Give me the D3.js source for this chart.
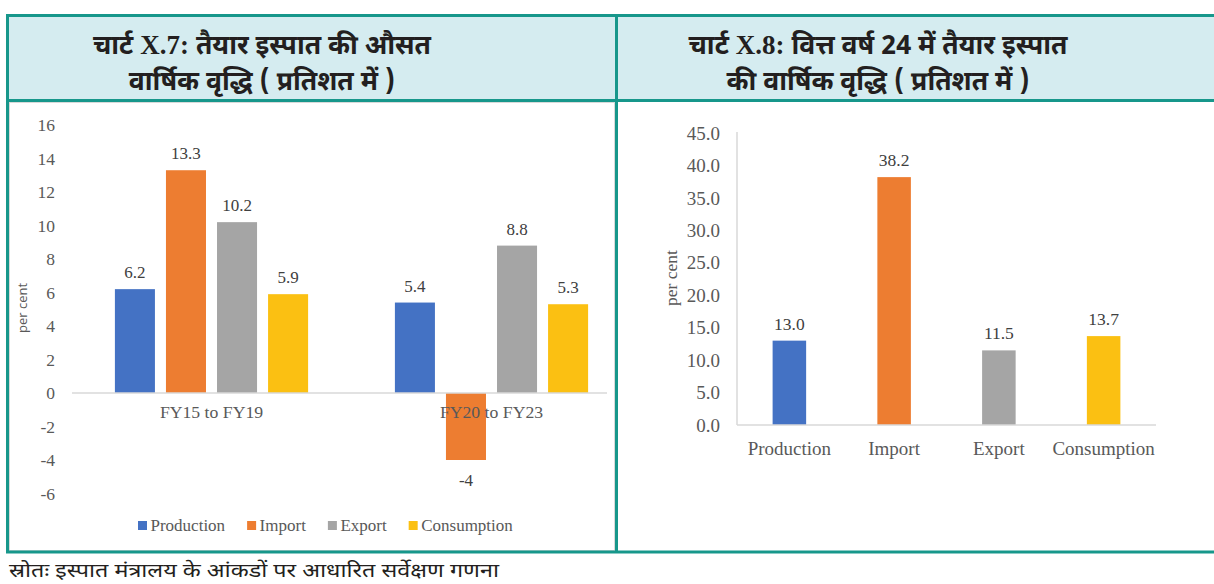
<!DOCTYPE html>
<html>
<head>
<meta charset="utf-8">
<script src="https://cdn.jsdelivr.net/npm/d3@7"></script>
<style>
  body { margin: 0; background: #fff; }
  svg { display: block; }
</style>
</head>
<body>
<svg id="chart" width="1214" height="584"></svg>
<script>
// ---- data ----
const periods = ["FY15 to FY19", "FY20 to FY23"];
const seriesNames = ["Production", "Import", "Export", "Consumption"];
const production = [6.2, 5.4];
const importGrowth = [13.3, -4];
const exportGrowth = [10.2, 8.8];
const consumption = [5.9, 5.3];
const leftTicks = [16, 14, 12, 10, 8, 6, 4, 2, 0, -2, -4, -6];

const fy24Categories = ["Production", "Import", "Export", "Consumption"];
const fy24Values = [13.0, 38.2, 11.5, 13.7];
const rightTicks = [0, 5, 10, 15, 20, 25, 30, 35, 40, 45];

const seriesColors = ["#4472c4", "#ed7d31", "#a5a5a5", "#fbc012"];

// title pieces: [text, isLatin]
const leftTitle = [
  [["चार्ट ", false], ["X.7:", true], [" तैयार इस्पात की औसत", false]],
  [["वार्षिक वृद्धि ( प्रतिशत में )", false]]
];
const rightTitle = [
  [["चार्ट ", false], ["X.8:", true], [" वित्त वर्ष 24 में तैयार इस्पात", false]],
  [["की वार्षिक वृद्धि ( प्रतिशत में )", false]]
];
const sourceNote = "स्रोतः इस्पात मंत्रालय के आंकडों पर आधारित सर्वेक्षण गणना";

// ---- styles ----
const teal = "#17978b";
const headerFill = "#d5ecf0";
const textGray = "#595959";
const axisGray = "#d9d9d9";
const serif = "'Liberation Serif', 'Times New Roman', serif";
const deva = "'Noto Sans Devanagari', 'Noto Serif Devanagari', 'Lohit Devanagari', 'FreeSans', 'Noto Sans', sans-serif";

const svg = d3.select("#chart");

// ---- frame & header ----
svg.append("rect").attr("x", 7).attr("y", 15).attr("width", 1214).attr("height", 86)
  .attr("fill", headerFill);
// inner light chart frame of the left panel
svg.append("rect").attr("x", 9.5).attr("y", 102.5).attr("width", 605).attr("height", 448)
  .attr("fill", "none").attr("stroke", axisGray).attr("stroke-width", 1);

const frame = svg.append("g").attr("stroke", teal);
frame.append("line").attr("x1", 6).attr("x2", 1214).attr("y1", 15.5).attr("y2", 15.5).attr("stroke-width", 3);
frame.append("line").attr("x1", 7.5).attr("x2", 7.5).attr("y1", 14).attr("y2", 553).attr("stroke-width", 3);
frame.append("line").attr("x1", 6).attr("x2", 1214).attr("y1", 100.5).attr("y2", 100.5).attr("stroke-width", 3);
frame.append("line").attr("x1", 616.5).attr("x2", 616.5).attr("y1", 14).attr("y2", 553).attr("stroke-width", 3);
frame.append("line").attr("x1", 6).attr("x2", 1214).attr("y1", 552).attr("y2", 552).attr("stroke-width", 3);

function drawTitle(lines, cx) {
  const t = svg.append("g").selectAll("text").data(lines).join("text")
    .attr("x", cx).attr("y", (d, i) => 54 + i * 36)
    .attr("text-anchor", "middle")
    .attr("font-family", deva).attr("font-weight", "bold").attr("font-size", 26.5)
    .attr("fill", "#231f20");
  t.selectAll("tspan").data(d => d).join("tspan")
    .attr("font-family", d => d[1] ? serif : deva)
    .attr("font-size", d => d[1] ? 27 : 26.5)
    .text(d => d[0]);
}
drawTitle(leftTitle, 262);
drawTitle(rightTitle, 878);

svg.append("text").attr("x", 9).attr("y", 577)
  .attr("font-family", deva).attr("font-size", 19.5).attr("fill", "#231f20")
  .attr("textLength", 490).attr("lengthAdjust", "spacingAndGlyphs")
  .text(sourceNote);

// ---- left chart: average annual growth ----
const seriesData = [production, importGrowth, exportGrowth, consumption];
const y = d3.scaleLinear().domain([-6, 16]).range([493.5, 125]);
const x0 = d3.scaleBand().domain(periods).range([71.5, 631.5]);
const x1 = d3.scaleBand().domain(seriesNames)
  .range([x0.bandwidth() * 0.155, x0.bandwidth() * 0.845]).paddingInner(0.216);

const left = svg.append("g");
left.append("g").selectAll("text").data(leftTicks).join("text")
  .attr("x", 55).attr("y", d => y(d)).attr("dy", "0.35em")
  .attr("text-anchor", "end").attr("font-family", serif).attr("font-size", 17.5)
  .attr("fill", textGray).text(d => d);

const groups = left.append("g").selectAll("g").data(periods).join("g")
  .attr("transform", d => `translate(${x0(d)},0)`);

const barsData = (p, pi) => seriesNames.map((s, si) => ({ s, v: seriesData[si][pi], c: seriesColors[si] }));

groups.selectAll("rect").data(barsData).join("rect")
  .attr("x", d => x1(d.s)).attr("width", x1.bandwidth())
  .attr("y", d => y(Math.max(0, d.v)))
  .attr("height", d => Math.abs(y(d.v) - y(0)))
  .attr("fill", d => d.c);

left.append("line").attr("x1", 72).attr("x2", 607).attr("y1", y(0)).attr("y2", y(0))
  .attr("stroke", axisGray).attr("stroke-width", 1.5);

groups.selectAll("text.val").data(barsData).join("text").attr("class", "val")
  .attr("x", d => x1(d.s) + x1.bandwidth() / 2)
  .attr("y", d => d.v >= 0 ? y(d.v) - 11 : y(d.v) + 26)
  .attr("text-anchor", "middle").attr("font-family", serif).attr("font-size", 17)
  .attr("fill", "#404040").text(d => d.v);

groups.append("text")
  .attr("x", x0.bandwidth() / 2).attr("y", y(0) + 25)
  .attr("text-anchor", "middle").attr("font-family", serif).attr("font-size", 17.7)
  .attr("fill", textGray).text(d => d);

left.append("text").attr("transform", "translate(27,308) rotate(-90)")
  .attr("text-anchor", "middle").attr("font-family", "'Open Sans', 'Noto Sans', sans-serif")
  .attr("font-size", 13).attr("fill", textGray).text("per cent");

// legend
const legend = left.append("g");
let lx = 138;
seriesNames.forEach((s, i) => {
  legend.append("rect").attr("x", lx).attr("y", 521).attr("width", 9).attr("height", 9)
    .attr("fill", seriesColors[i]);
  const t = legend.append("text").attr("x", lx + 12.5).attr("y", 531)
    .attr("font-family", serif).attr("font-size", 17).attr("fill", textGray).text(s);
  lx += 12.5 + t.node().getComputedTextLength() + 22;
});

// ---- right chart: FY24 growth ----
const y2 = d3.scaleLinear().domain([0, 45]).range([425, 133]);
const x2 = d3.scaleBand().domain(fy24Categories).range([737, 1156])
  .paddingInner(0.68).paddingOuter(0.34);

const right = svg.append("g");
right.append("g").selectAll("text").data(rightTicks).join("text")
  .attr("x", 720).attr("y", d => y2(d)).attr("dy", "0.35em")
  .attr("text-anchor", "end").attr("font-family", serif).attr("font-size", 19)
  .attr("fill", textGray).text(d => d3.format(".1f")(d));

right.append("line").attr("x1", 737).attr("x2", 737).attr("y1", y2(45) - 1).attr("y2", y2(0))
  .attr("stroke", axisGray).attr("stroke-width", 1.5);

right.append("g").selectAll("rect").data(fy24Values).join("rect")
  .attr("x", (d, i) => x2(fy24Categories[i])).attr("width", x2.bandwidth())
  .attr("y", d => y2(d)).attr("height", d => y2(0) - y2(d))
  .attr("fill", (d, i) => seriesColors[i]);

right.append("line").attr("x1", 737).attr("x2", 1156).attr("y1", y2(0)).attr("y2", y2(0))
  .attr("stroke", axisGray).attr("stroke-width", 1.5);

right.append("g").selectAll("text").data(fy24Values).join("text")
  .attr("x", (d, i) => x2(fy24Categories[i]) + x2.bandwidth() / 2)
  .attr("y", d => y2(d) - 11)
  .attr("text-anchor", "middle").attr("font-family", serif).attr("font-size", 17.5)
  .attr("fill", "#404040").text(d => d3.format(".1f")(d));

right.append("g").selectAll("text").data(fy24Categories).join("text")
  .attr("x", d => x2(d) + x2.bandwidth() / 2).attr("y", 455)
  .attr("text-anchor", "middle").attr("font-family", serif).attr("font-size", 19)
  .attr("fill", textGray).text(d => d);

right.append("text").attr("transform", "translate(677,278) rotate(-90)")
  .attr("text-anchor", "middle").attr("font-family", serif)
  .attr("font-size", 17.5).attr("fill", textGray).text("per cent");
</script>
</body>
</html>
